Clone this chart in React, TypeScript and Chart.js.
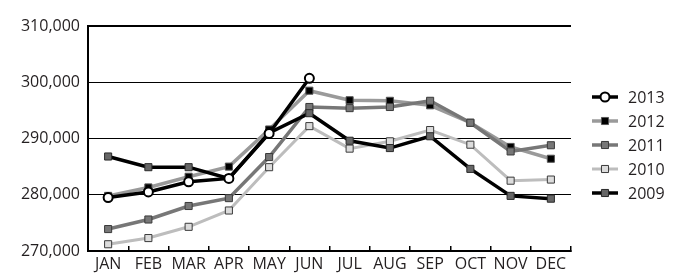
import React, { useEffect, useRef } from 'react';
import { Chart, registerables } from 'chart.js';

Chart.register(...registerables);

const months = ['JAN', 'FEB', 'MAR', 'APR', 'MAY', 'JUN', 'JUL', 'AUG', 'SEP', 'OCT', 'NOV', 'DEC'];
const seriesNames = ['2013', '2012', '2011', '2010', '2009'];
const s2013 = [279500, 280500, 282300, 282900, 290900, 300700, null, null, null, null, null, null];
const s2012 = [279800, 281300, 283200, 285000, 291600, 298500, 296800, 296700, 295900, 292800, 288500, 286400];
const s2011 = [273900, 275600, 278000, 279400, 286700, 295600, 295400, 295600, 296700, 292800, 287700, 288800];
const s2010 = [271200, 272300, 274300, 277200, 284900, 292200, 288200, 289500, 291500, 288900, 282500, 282700];
const s2009 = [286800, 284900, 284900, 282900, 291000, 294500, 289600, 288300, 290400, 284600, 279800, 279300];
const yMin = 270000;
const yMax = 310000;
const yStep = 10000;

const FONT = '"Open Sans", sans-serif';
const TEXT = '#231f20';

export default function App() {
  const ref = useRef<HTMLCanvasElement | null>(null);

  useEffect(() => {
    if (!ref.current) return;

    const legendPlugin = {
      id: 'sideLegend',
      afterDraw(chart: any) {
        const ctx = chart.ctx as CanvasRenderingContext2D;
        const x0 = 592, x1 = 618, xm = 605, xt = 628, top = 97, gap = 24;
        chart.data.datasets.forEach((ds: any, i: number) => {
          const y = top + i * gap;
          ctx.save();
          ctx.strokeStyle = ds.borderColor;
          ctx.lineWidth = ds.borderWidth;
          ctx.beginPath();
          ctx.moveTo(x0, y);
          ctx.lineTo(x1, y);
          ctx.stroke();
          ctx.fillStyle = ds.pointBackgroundColor;
          ctx.strokeStyle = ds.pointBorderColor;
          ctx.lineWidth = ds.pointBorderWidth;
          ctx.beginPath();
          if (ds.pointStyle === 'circle') {
            ctx.arc(xm, y, ds.pointRadius, 0, Math.PI * 2);
          } else {
            const h = ds.pointRadius * Math.SQRT1_2;
            ctx.rect(xm - h, y - h, 2 * h, 2 * h);
          }
          ctx.fill();
          ctx.stroke();
          ctx.fillStyle = TEXT;
          ctx.font = `16px ${FONT}`;
          ctx.textAlign = 'left';
          ctx.textBaseline = 'middle';
          ctx.fillText(ds.label, xt, y + 1);
          ctx.restore();
        });
      },
    };

    const mk = (label: string, data: any[], line: string, lw: number, style: string, bg: string, bc: string, bw: number, r: number, order: number) => ({
      label,
      data,
      borderColor: line,
      borderWidth: lw,
      pointStyle: style,
      pointBackgroundColor: bg,
      pointBorderColor: bc,
      pointBorderWidth: bw,
      pointRadius: r,
      pointHoverRadius: r,
      tension: 0,
      fill: false,
      order,
    });

    const chart = new Chart(ref.current, {
      type: 'line',
      data: {
        labels: months,
        datasets: [
          mk(seriesNames[0], s2013, '#000000', 3.5, 'circle', '#ffffff', '#000000', 2, 4.5, 0),
          mk(seriesNames[1], s2012, '#9a9a9a', 3.5, 'rect', '#000000', '#555555', 1, 5, 4),
          mk(seriesNames[2], s2011, '#777777', 3.5, 'rect', '#777777', '#3a3a3a', 1, 5, 3),
          mk(seriesNames[3], s2010, '#bdbdbd', 3, 'rect', '#dcdcdc', '#3a3a3a', 1, 5, 2),
          mk(seriesNames[4], s2009, '#000000', 3.5, 'rect', '#666666', '#2a2a2a', 1, 5, 1),
        ] as any,
      },
      options: {
        animation: false,
        responsive: false,
        layout: { padding: { top: 26, right: 106, left: 0, bottom: 0 } },
        plugins: { legend: { display: false }, tooltip: { enabled: false } },
        scales: {
          x: {
            offset: true,
            afterFit: (s: any) => { s.height = 28; },
            grid: { offset: true, drawOnChartArea: false, drawTicks: true, tickLength: -5, color: '#000', lineWidth: 1.5 },
            border: { color: '#000', width: 2 },
            ticks: { color: TEXT, font: { family: FONT, size: 16 }, padding: 9, maxRotation: 0, autoSkip: false },
          },
          y: {
            min: yMin,
            max: yMax,
            afterFit: (s: any) => { s.width = 88; },
            grid: {
              drawTicks: false,
              color: '#000',
              lineWidth: (c: any) => (c.tick && c.tick.value === yMax ? 2 : 1),
            },
            border: { color: '#000', width: 2 },
            ticks: { stepSize: yStep, color: TEXT, font: { family: FONT, size: 16 }, padding: 8 },
          },
        },
      } as any,
      plugins: [legendPlugin],
    });

    return () => chart.destroy();
  }, []);

  return (
    <div style={{ position: 'absolute', left: 0, top: 0, width: 677, height: 279, background: '#fff' }}>
      <canvas ref={ref} width={677} height={279} style={{ display: 'block' }} />
    </div>
  );
}
